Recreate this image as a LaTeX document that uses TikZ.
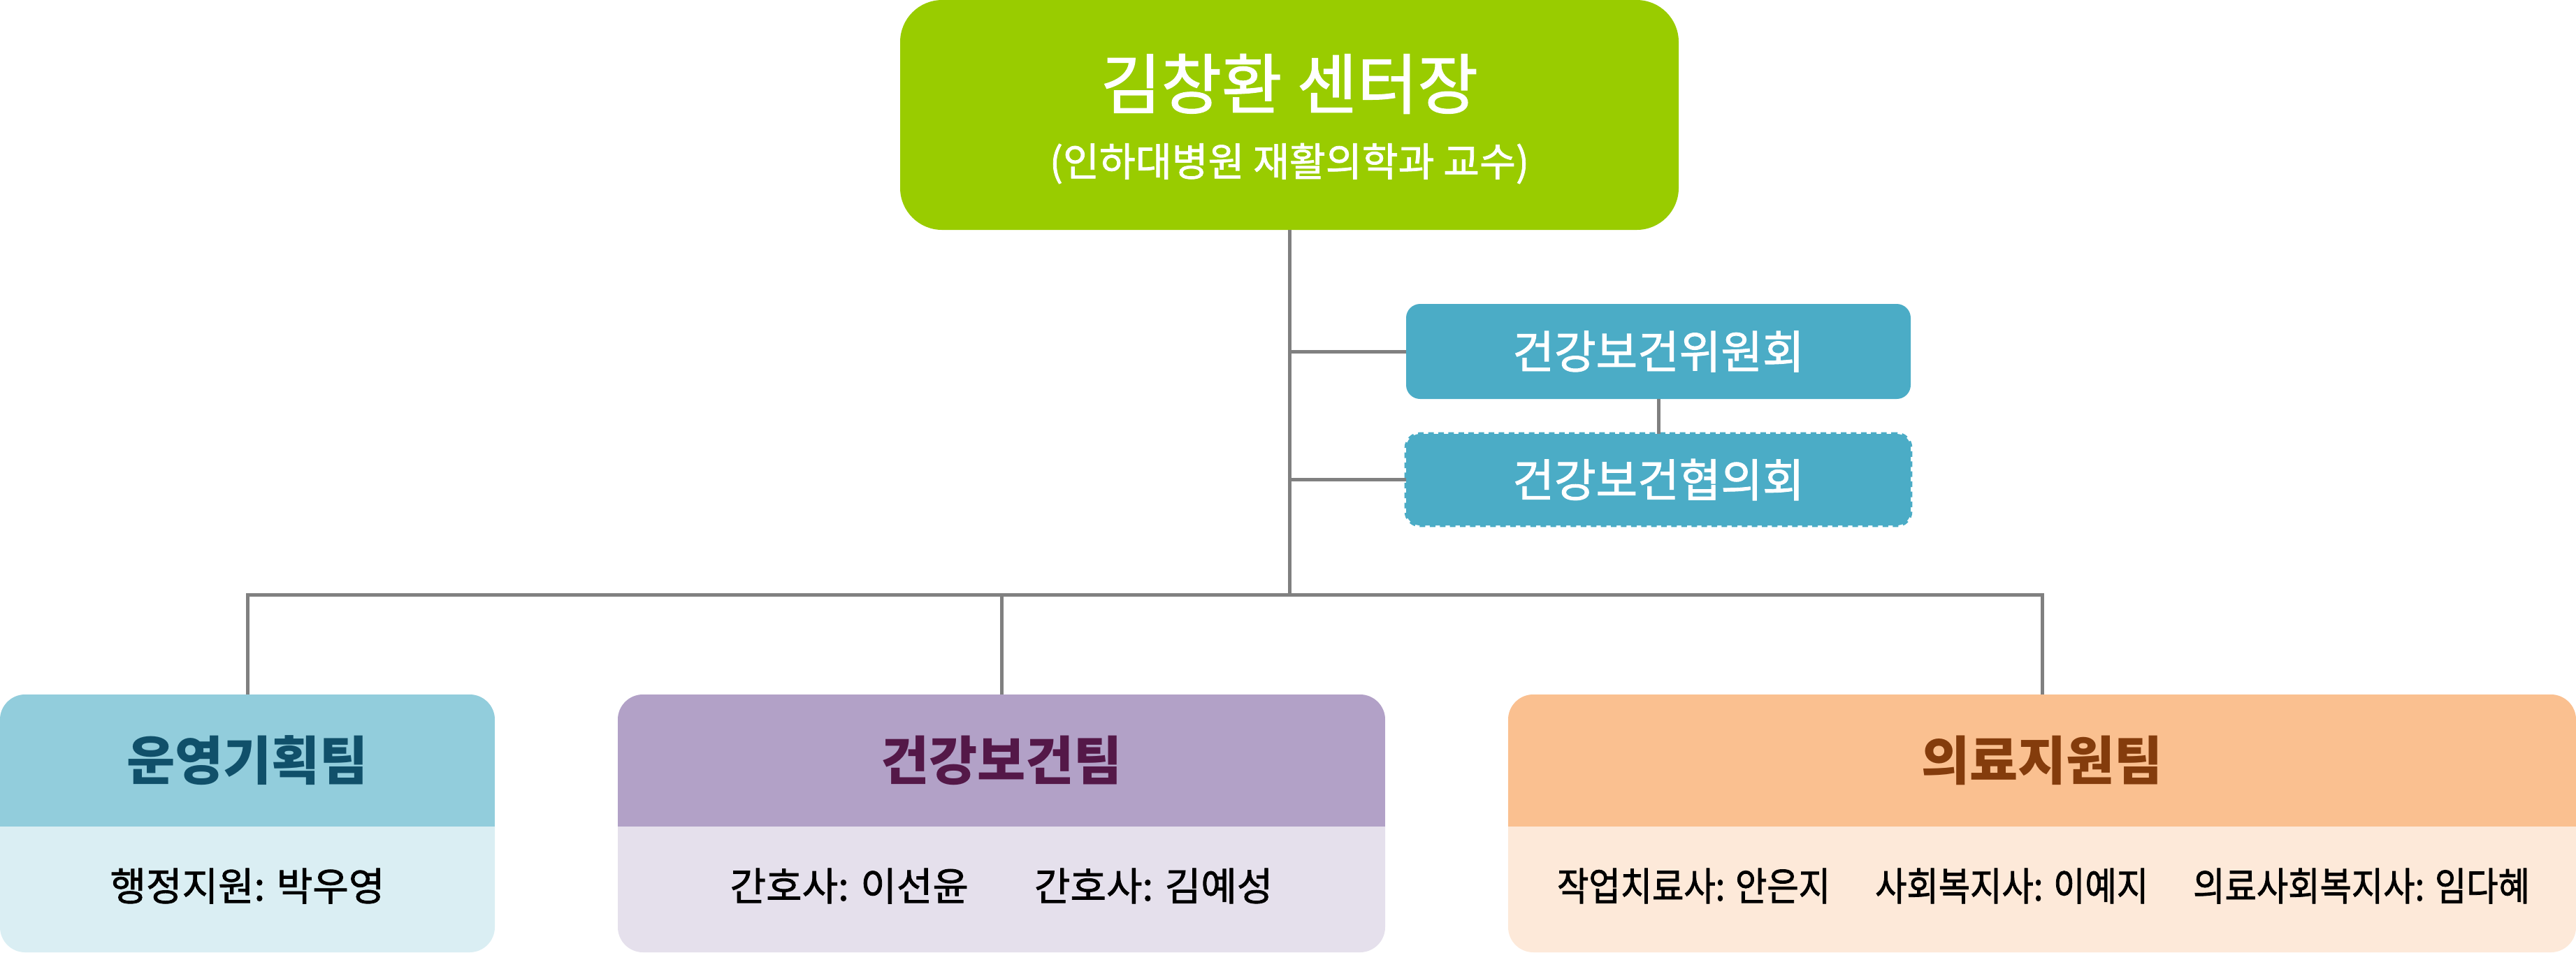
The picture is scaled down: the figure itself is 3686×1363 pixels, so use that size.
\documentclass[tikz,border=0pt]{standalone}
\usepackage{fontspec}
\setmainfont{Noto Sans CJK KR}
\newfontfamily\medkr[FakeBold=1.4]{Noto Sans CJK KR}
\newfontfamily\narrowkr[FakeStretch=0.88,FakeBold=1.4]{Noto Sans CJK KR}
\definecolor{topgreen}{HTML}{99CC00}
\definecolor{comblue}{HTML}{4BACC6}
\definecolor{lineg}{HTML}{808080}
\definecolor{aHdr}{HTML}{92CDDC}
\definecolor{aBody}{HTML}{DAEEF3}
\definecolor{aText}{HTML}{10506A}
\definecolor{bHdr}{HTML}{B2A1C7}
\definecolor{bBody}{HTML}{E5E0EC}
\definecolor{bText}{HTML}{541848}
\definecolor{cHdr}{HTML}{FAC090}
\definecolor{cBody}{HTML}{FDE9D9}
\definecolor{cText}{HTML}{843C0C}
\begin{document}
\begin{tikzpicture}[x=0.25pt,y=-0.25pt,
  box/.style={inner sep=0pt, outer sep=0pt, anchor=north west},
  link/.style={draw=lineg, line width=1.25pt},
  combox/.style={box, fill=comblue, rounded corners=5pt, minimum width=722*0.25pt,
     text=white, font=\medkr\fontsize{16.2}{19}\selectfont},
  teambox/.style={box, rounded corners=9pt, minimum height=369*0.25pt},
  teamtitle/.style={font=\bfseries\fontsize{18.8}{22}\selectfont},
  staff/.style={font=\medkr\fontsize{14}{17}\selectfont, text=black}]
\useasboundingbox (0,0) rectangle (3686,1363);

% head
\node[box, fill=topgreen, rounded corners=15pt, minimum width=1114*0.25pt,
      minimum height=329*0.25pt] (head) at (1288,0) {};
\node[text=white, font=\medkr\fontsize{23.5}{28}\selectfont] (headname) at (1845,120) {김창환 센터장};
\node[text=white, font=\medkr\fontsize{14.1}{17}\selectfont] (headrole) at (1845,234) {(인하대병원 재활의학과 교수)};

% committees
\node[combox, minimum height=136*0.25pt] (com1) at (2012,435) {건강보건위원회};
\node[combox, minimum height=131*0.25pt, draw=comblue, line width=1.2pt,
      dash pattern=on 2pt off 1.6pt] (com2) at (2012,621) {건강보건협의회};

% teams
\node[teambox, fill=aBody, minimum width=708*0.25pt] (teamA) at (0,994) {};
\node[teambox, fill=bBody, minimum width=1098*0.25pt] (teamB) at (884,994) {};
\node[teambox, fill=cBody, minimum width=1528*0.25pt] (teamC) at (2158,994) {};
\begin{scope}
  \clip[rounded corners=9pt] (0,994) rectangle (708,1363);
  \fill[aHdr] (0,994) rectangle (708,1183);
\end{scope}
\begin{scope}
  \clip[rounded corners=9pt] (884,994) rectangle (1982,1363);
  \fill[bHdr] (884,994) rectangle (1982,1183);
\end{scope}
\begin{scope}
  \clip[rounded corners=9pt] (2158,994) rectangle (3686,1363);
  \fill[cHdr] (2158,994) rectangle (3686,1183);
\end{scope}

\node[teamtitle, text=aText] (titleA) at (354,1088) {운영기획팀};
\node[teamtitle, text=bText] (titleB) at (1433,1088) {건강보건팀};
\node[teamtitle, text=cText] (titleC) at (2922,1088) {의료지원팀};

\node[staff] (staffA) at (354,1268) {행정지원: 박우영};
\node[staff] (staffB) at (1433,1268) {간호사: 이선윤\hspace{23.5pt}간호사: 김예성};
\node[staff, font=\narrowkr\fontsize{14}{17}\selectfont] (staffC) at (2924,1268)
  {작업치료사: 안은지\hspace{16pt}사회복지사: 이예지\hspace{16pt}의료사회복지사: 임다혜};

% connectors
\coordinate (hub) at (1845,851);
\draw[link] (head.south) -- (hub);
\draw[link] (head.south |- com1.west) -- (com1.west);
\draw[link] (head.south |- com2.west) -- (com2.west);
\draw[link] (com1.south) -- (com2.north);
\draw[link] (teamA.north) |- (hub) -| (teamC.north);
\draw[link] (teamB.north) -- (teamB.north |- hub);
\end{tikzpicture}
\end{document}
